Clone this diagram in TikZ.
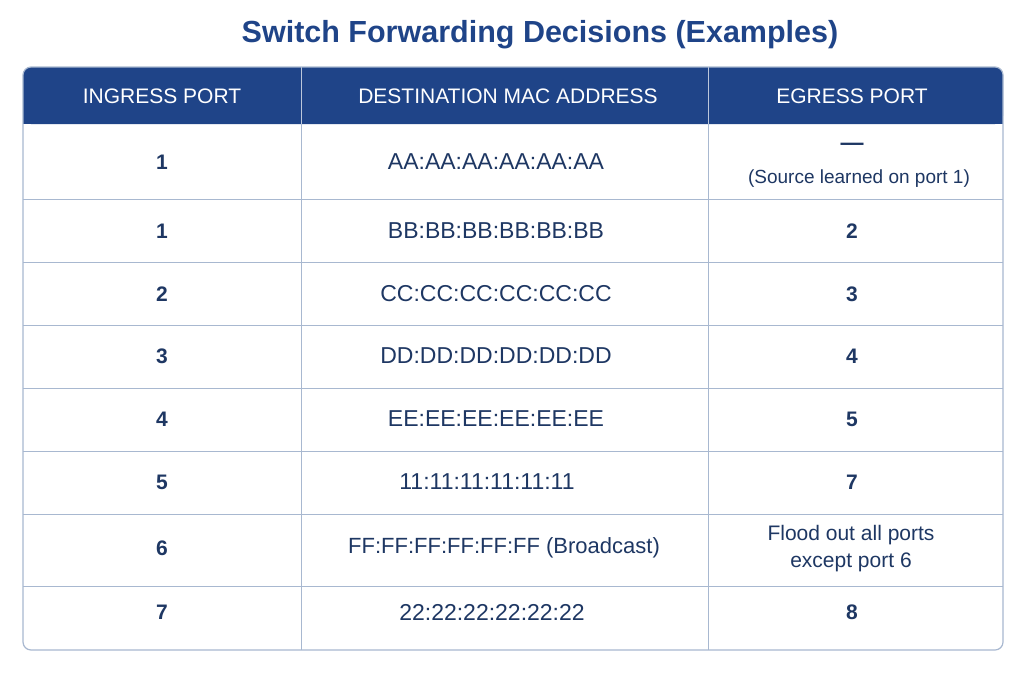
\documentclass[tikz,border=0pt]{standalone}
\usepackage{fontspec}
\setmainfont{Liberation Sans}
\begin{document}
\definecolor{navy}{HTML}{1F4488}
\definecolor{ink}{HTML}{1E3763}
\definecolor{gridc}{HTML}{A8B8D0}
\begin{tikzpicture}[x=1pt,y=-1pt,
  hdr/.style={text=white,font=\fontsize{21}{24}\selectfont},
  num/.style={text=ink,font=\bfseries\fontsize{21}{24}\selectfont},
  cell/.style={text=ink,font=\fontsize{23}{27}\selectfont,align=center},
  small/.style={text=ink,font=\fontsize{19}{22}\selectfont,align=center}]
\useasboundingbox (0,0) rectangle (1024,683);
\node[text=navy,font=\bfseries\fontsize{30.5}{34}\selectfont] (title) at (540,35) {Switch Forwarding Decisions (Examples)};
\fill[white,rounded corners=8] (23,67) rectangle (1003,650);
\fill[navy,rounded corners=8] (23,67) rectangle (1003,124);
\fill[navy] (23,100) rectangle (1003,124);
\foreach \y in {199,262,325,388,451,514,586} \draw[gridc,line width=1] (23,\y) -- (1003,\y);
\draw[gridc,line width=1] (301,124) -- (301,650) (708,124) -- (708,650);
\draw[white!70!navy,line width=1] (301,67) -- (301,124) (708,67) -- (708,124);
\draw[gridc,line width=1.2,rounded corners=8] (23,67) rectangle (1003,650);
\node[hdr] (h1) at (162,96) {INGRESS PORT};
\node[hdr] (h2) at (508,96) {DESTINATION MAC ADDRESS};
\node[hdr] (h3) at (852,96) {EGRESS PORT};
\node[num] (a1) at (162,162) {1};
\node[cell] (a2) at (496,162) {AA:AA:AA:AA:AA:AA};
\node[num,font=\bfseries\fontsize{23}{24}\selectfont] (a3a) at (852,147) {—};
\node[small] (a3b) at (859,179) {(Source learned on port 1)};
\node[num] (b1) at (162,231) {1};
\node[cell] (b2) at (496,231) {BB:BB:BB:BB:BB:BB};
\node[num] (b3) at (852,231) {2};
\node[num] (c1) at (162,294) {2};
\node[cell] (c2) at (496,294) {CC:CC:CC:CC:CC:CC};
\node[num] (c3) at (852,294) {3};
\node[num] (d1) at (162,356) {3};
\node[cell] (d2) at (496,356) {DD:DD:DD:DD:DD:DD};
\node[num] (d3) at (852,356) {4};
\node[num] (e1) at (162,419) {4};
\node[cell] (e2) at (496,419) {EE:EE:EE:EE:EE:EE};
\node[num] (e3) at (852,419) {5};
\node[num] (f1) at (162,482) {5};
\node[cell] (f2) at (487,482) {11:11:11:11:11:11};
\node[num] (f3) at (852,482) {7};
\node[num] (g1) at (162,548) {6};
\node[cell,font=\fontsize{22}{26}\selectfont] (g2) at (504,548) {FF:FF:FF:FF:FF:FF (Broadcast)};
\node[cell,font=\fontsize{21}{27}\selectfont] (g3) at (851,549) {Flood out all ports\\except port 6};
\node[num] (h1r) at (162,612) {7};
\node[cell] (h2r) at (492,612) {22:22:22:22:22:22};
\node[num] (h3r) at (852,612) {8};
\end{tikzpicture}
\end{document}
